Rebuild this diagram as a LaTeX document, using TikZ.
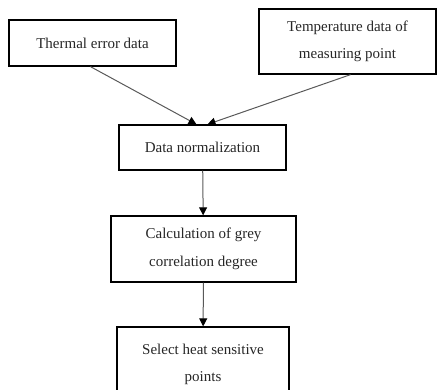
\documentclass[tikz,border=0pt]{standalone}
\usepackage{fontspec}
\setmainfont{Liberation Serif}
\usetikzlibrary{positioning,arrows.meta}

\begin{document}
\begin{tikzpicture}[
    x=1pt, y=-1pt,
    box/.style={rectangle, draw, line width=1.3pt, align=center, inner sep=2pt,
        font=\fontsize{15}{27.5}\selectfont, text=black!85},
    flow/.style={draw=black!65, line width=1pt, -{Triangle[length=8pt,width=8pt,color=black]}}
]
\clip (0,0) rectangle (437,389);
\useasboundingbox (0,0) rectangle (437,389);

% Boxes
\node[box, minimum width=167pt, minimum height=46pt] (thermal) at (92.5,43) {Thermal error data};
\node[box, minimum width=177pt, minimum height=65pt] (temp) at (347.5,41.5) {Temperature data of\\measuring point};
\node[box, minimum width=167pt, minimum height=45pt] (norm) at (202.5,147.5) {Data normalization};
\node[box, minimum width=185pt, minimum height=66pt] (grey) at (203.5,249) {Calculation of grey\\correlation degree};
\node[box, minimum width=172pt, minimum height=75pt] (select) at (203,364.5) {Select heat sensitive\\points};

% Arrows
\draw[flow] ([xshift=-2pt]thermal.south) -- ([xshift=-6pt]norm.north);
\draw[flow] ([xshift=3pt]temp.south) -- ([xshift=5pt]norm.north);
\draw[flow] (norm) -- (grey);
\draw[flow] (grey) -- (select);

\end{tikzpicture}
\end{document}
